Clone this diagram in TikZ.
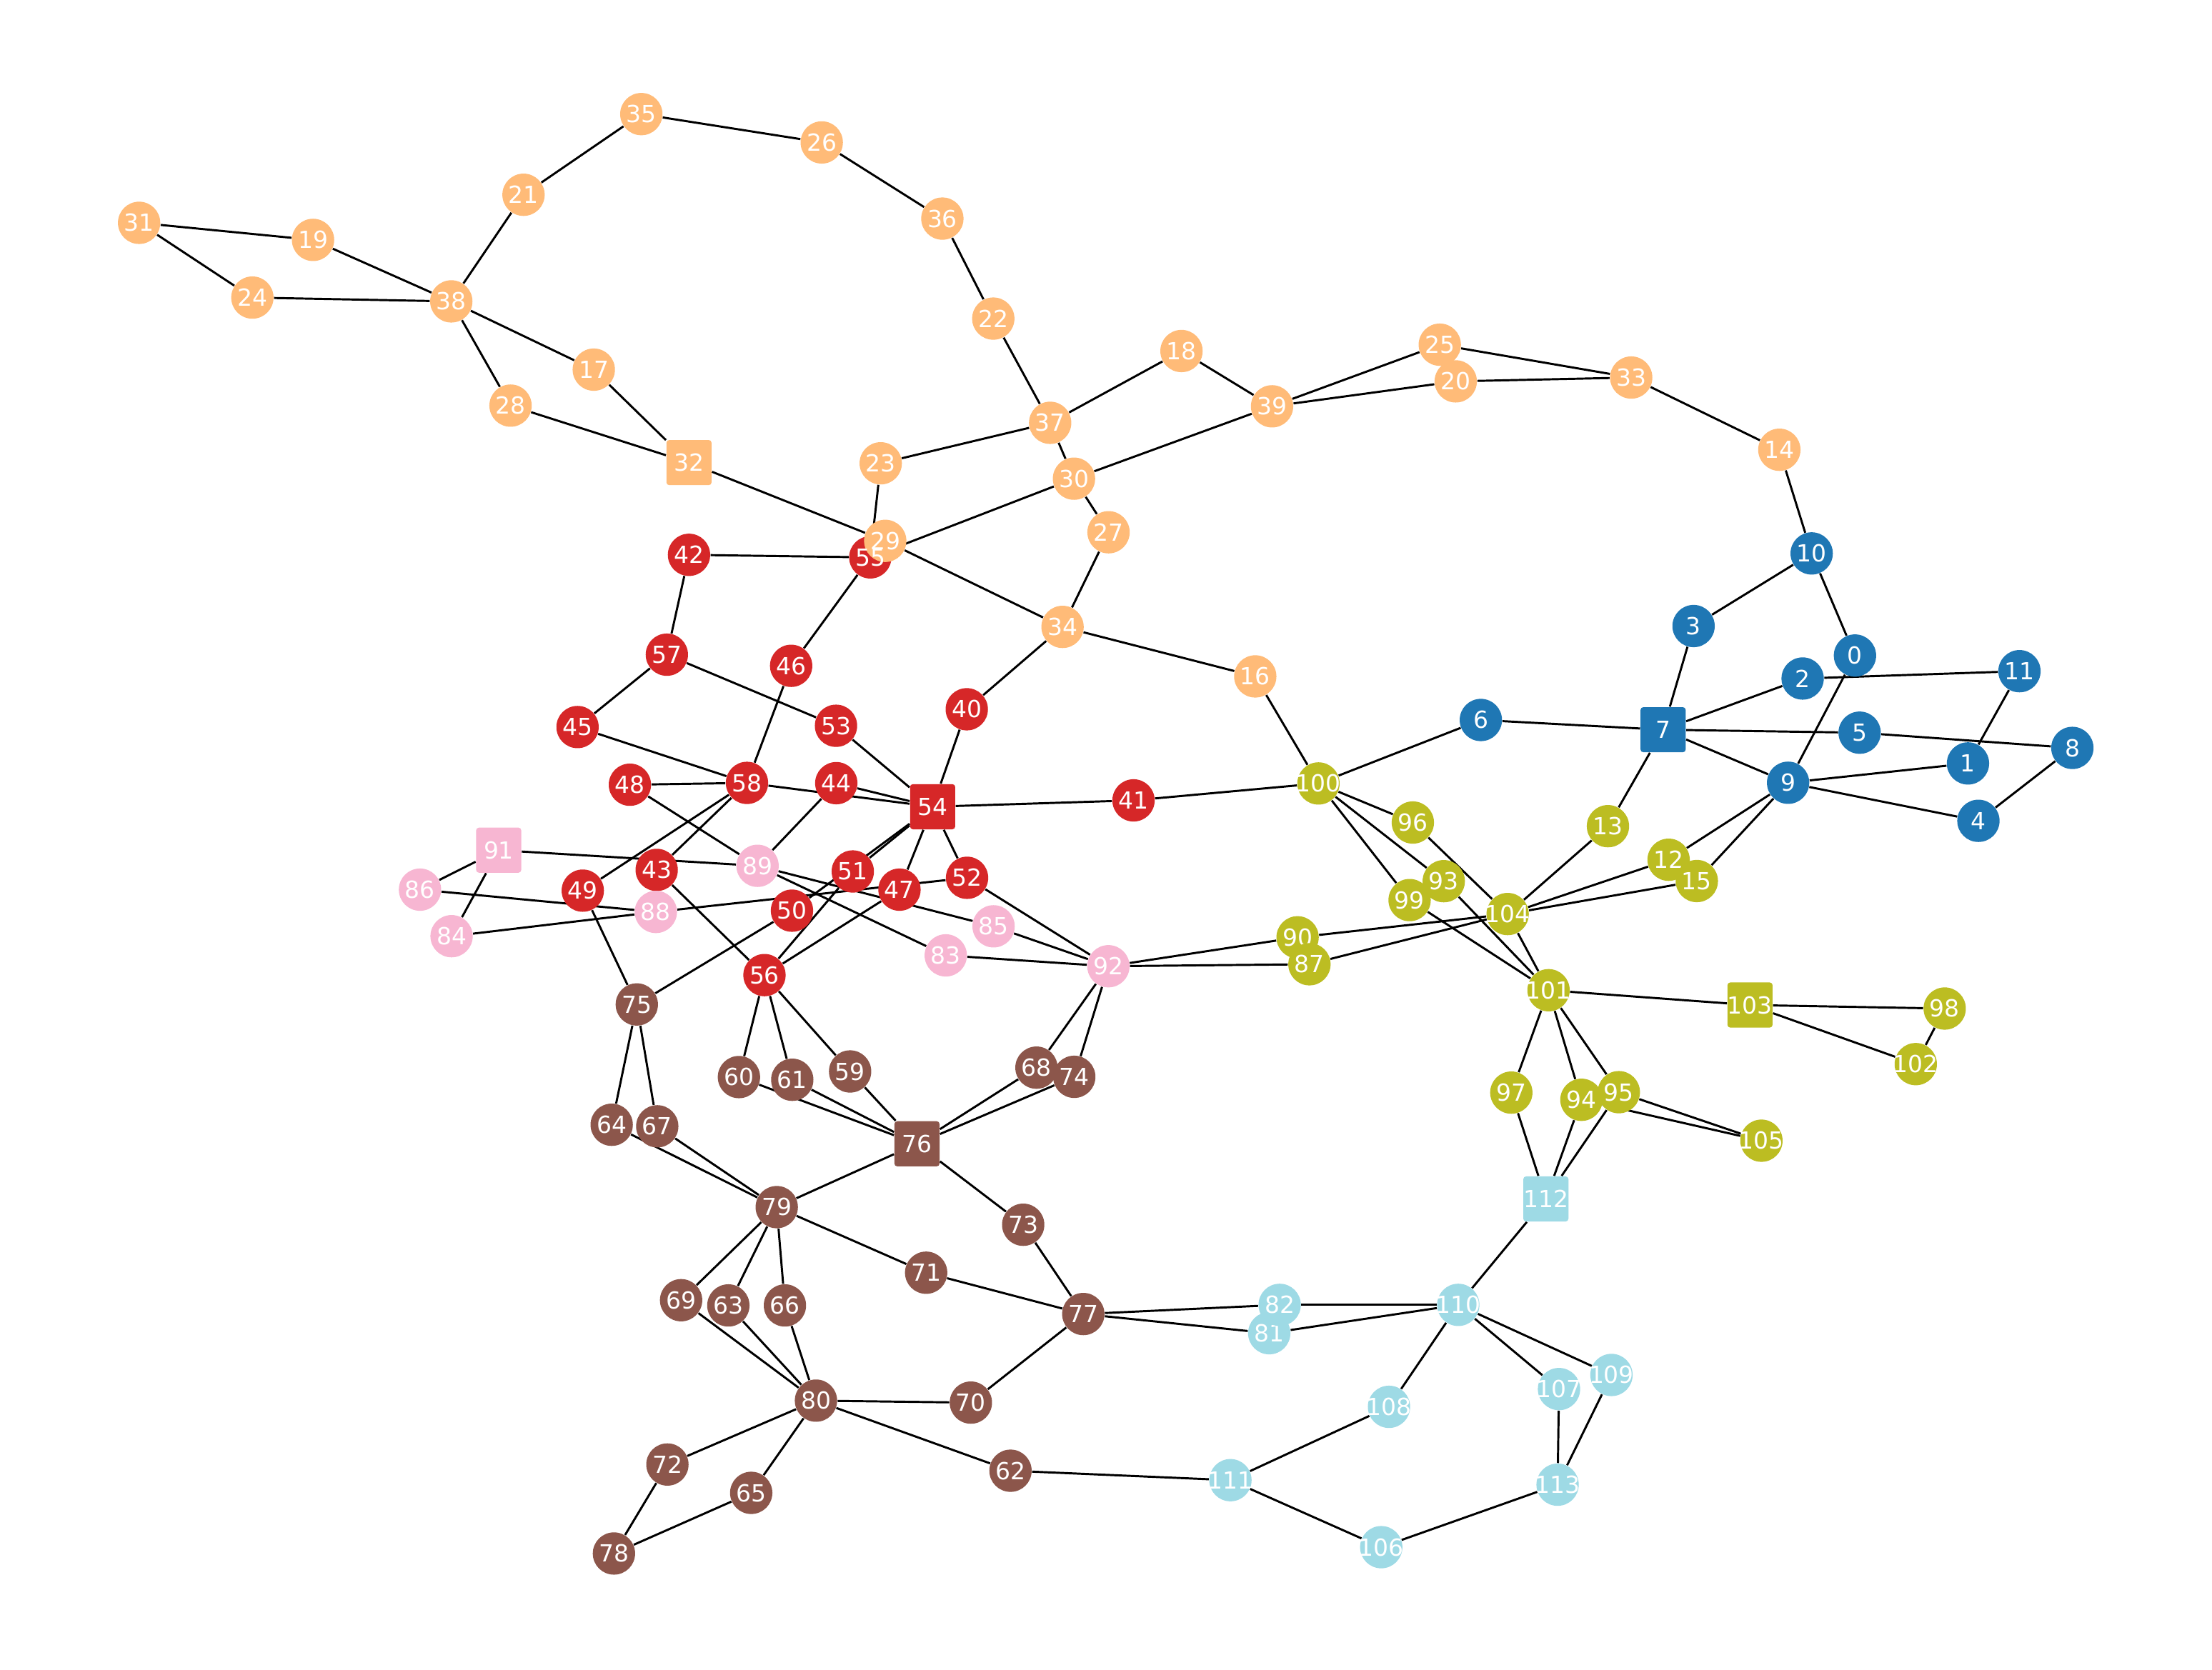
\documentclass[tikz,border=0pt]{standalone}
\usepackage{fontspec}
\setmainfont{DejaVu Sans}
\usetikzlibrary{shapes}
\definecolor{node_blue}{RGB}{31,119,180}
\definecolor{node_orange}{RGB}{255,187,120}
\definecolor{node_red}{RGB}{214,39,40}
\definecolor{node_pink}{RGB}{247,182,210}
\definecolor{node_brown}{RGB}{140,86,75}
\definecolor{node_olive}{RGB}{188,189,34}
\definecolor{node_cyan}{RGB}{158,218,229}
\pgfdeclarelayer{background}
\pgfsetlayers{background,main}

\begin{document}
\begin{tikzpicture}[x=0.2mm,y=-0.2mm]
    \tikzstyle{member}=[circle, minimum size=6mm, inner sep=-4pt, draw=none, text=white, font=\fontsize{9.5}{10}\selectfont]
    \tikzstyle{hub}=[rectangle, rounded corners=0.4mm, minimum size=6.4mm, inner sep=-4pt, draw=none, text=white, font=\fontsize{9.5}{10}\selectfont]
    \tikzstyle{tag}=[inner sep=0pt, text=white, font=\fontsize{9.5}{10}\selectfont]
    \tikzstyle{memberblue}=[style=member, fill=node_blue]
    \tikzstyle{memberorange}=[style=member, fill=node_orange]
    \tikzstyle{memberred}=[style=member, fill=node_red]
    \tikzstyle{memberpink}=[style=member, fill=node_pink]
    \tikzstyle{memberbrown}=[style=member, fill=node_brown]
    \tikzstyle{memberolive}=[style=member, fill=node_olive]
    \tikzstyle{membercyan}=[style=member, fill=node_cyan]
    \tikzstyle{link}=[draw=black, line width=0.85pt]

    \useasboundingbox (0,0) rectangle (1568,1184);

    % blue community
    \node[memberblue]          (n0)   at (1314.9,464.8)  {0};
    \node[memberblue]          (n1)   at (1395.0,541.3)  {1};
    \node[memberblue]          (n2)   at (1277.8,481.1)  {2};
    \node[memberblue]          (n3)   at (1200.5,443.9)  {3};
    \node[memberblue]          (n4)   at (1402.4,582.0)  {4};
    \node[memberblue]          (n5)   at (1318.2,519.5)  {5};
    \node[memberblue]          (n6)   at (1049.7,510.5)  {6};
    \node[hub,fill=node_blue]  (n7)   at (1178.9,517.4)  {7};
    \node[memberblue]          (n8)   at (1469.0,530.3)  {8};
    \node[memberblue]          (n9)   at (1267.5,555.0)  {9};
    \node[memberblue]          (n10)  at (1284.2,392.4)  {10};
    \node[memberblue]          (n11)  at (1431.5,475.9)  {11};

    % red community
    \node[memberred]           (n40)  at (685.3,502.9)   {40};
    \node[memberred]           (n41)  at (803.5,567.5)   {41};
    \node[memberred]           (n42)  at (488.4,393.4)   {42};
    \node[memberred]           (n43)  at (465.5,616.8)   {43};
    \node[memberred]           (n44)  at (592.8,555.3)   {44};
    \node[memberred]           (n45)  at (409.4,515.5)   {45};
    \node[memberred]           (n46)  at (560.8,472.1)   {46};
    \node[memberred]           (n47)  at (637.6,630.8)   {47};
    \node[memberred]           (n48)  at (446.5,556.4)   {48};
    \node[memberred]           (n49)  at (413.1,631.5)   {49};
    \node[memberred]           (n50)  at (561.4,645.7)   {50};
    \node[memberred]           (n51)  at (604.5,617.9)   {51};
    \node[memberred]           (n52)  at (685.5,622.4)   {52};
    \node[memberred]           (n53)  at (592.6,514.6)   {53};
    \node[hub,fill=node_red]   (n54)  at (661.1,572.0)   {54};
    \node[memberred]           (n55)  at (616.9,395.2)   {};
    \node[memberred]           (n56)  at (541.9,691.4)   {56};
    \node[memberred]           (n57)  at (472.7,464.2)   {57};
    \node[memberred]           (n58)  at (529.5,555.1)   {58};

    % orange community
    \node[memberorange]        (n14)  at (1261.3,318.9)  {14};
    \node[memberorange]        (n16)  at (889.8,479.6)   {16};
    \node[memberorange]        (n17)  at (420.9,262.1)   {17};
    \node[memberorange]        (n18)  at (837.5,248.9)   {18};
    \node[memberorange]        (n19)  at (221.9,170.1)   {19};
    \node[memberorange]        (n25)  at (1020.6,244.4)  {25};
    \node[memberorange]        (n20)  at (1031.9,270.4)  {20};
    \node[memberorange]        (n21)  at (371.1,138.1)   {21};
    \node[memberorange]        (n22)  at (704.1,225.9)   {22};
    \node[memberorange]        (n23)  at (624.3,328.5)   {23};
    \node[memberorange]        (n24)  at (178.9,211.0)   {24};
    \node[memberorange]        (n26)  at (582.5,101.0)   {26};
    \node[memberorange]        (n27)  at (785.8,377.4)   {27};
    \node[memberorange]        (n28)  at (361.9,287.6)   {28};
    \node[memberorange]        (n29)  at (627.5,383.5)   {29};
    \node[memberorange]        (n30)  at (761.3,339.4)   {30};
    \node[memberorange]        (n31)  at (98.6,158.0)    {31};
    \node[hub,fill=node_orange] (n32) at (488.4,328.0)   {32};
    \node[memberorange]        (n33)  at (1156.3,267.7)  {33};
    \node[memberorange]        (n34)  at (753.2,444.5)   {34};
    \node[memberorange]        (n35)  at (454.6,80.9)    {35};
    \node[memberorange]        (n36)  at (668.0,155.0)   {36};
    \node[memberorange]        (n37)  at (744.4,299.8)   {37};
    \node[memberorange]        (n38)  at (319.9,213.7)   {38};
    \node[memberorange]        (n39)  at (901.7,288.1)   {39};
    % label of 55 sits above the circle of 29
    \node[tag]                 (t55)  at (n55)           {55};

    % pink community
    \node[memberpink]          (n83)  at (670.4,677.4)   {83};
    \node[memberpink]          (n84)  at (320.1,663.8)   {84};
    \node[memberpink]          (n85)  at (704.3,656.8)   {85};
    \node[memberpink]          (n86)  at (297.7,630.8)   {86};
    \node[memberpink]          (n88)  at (464.9,646.6)   {88};
    \node[memberpink]          (n89)  at (537.0,613.9)   {89};
    \node[hub,fill=node_pink]  (n91)  at (353.5,602.8)   {91};
    \node[memberpink]          (n92)  at (785.7,685.1)   {92};

    % brown community
    \node[memberbrown]         (n59)  at (602.6,759.7)   {59};
    \node[memberbrown]         (n60)  at (523.8,763.7)   {60};
    \node[memberbrown]         (n61)  at (561.6,765.6)   {61};
    \node[memberbrown]         (n62)  at (716.3,1042.8)  {62};
    \node[memberbrown]         (n63)  at (516.3,925.6)   {63};
    \node[memberbrown]         (n64)  at (433.6,797.5)   {64};
    \node[memberbrown]         (n65)  at (532.5,1058.5)  {65};
    \node[memberbrown]         (n66)  at (556.4,925.6)   {66};
    \node[memberbrown]         (n67)  at (465.9,798.6)   {67};
    \node[memberbrown]         (n68)  at (734.7,757.0)   {68};
    \node[memberbrown]         (n69)  at (482.8,921.9)   {69};
    \node[memberbrown]         (n70)  at (688.2,994.5)   {70};
    \node[memberbrown]         (n71)  at (656.5,902.4)   {71};
    \node[memberbrown]         (n72)  at (473.1,1038.4)  {72};
    \node[memberbrown]         (n73)  at (725.3,868.4)   {73};
    \node[memberbrown]         (n74)  at (761.5,763.5)   {74};
    \node[memberbrown]         (n75)  at (451.4,712.2)   {75};
    \node[hub,fill=node_brown] (n76)  at (650.0,811.0)   {76};
    \node[memberbrown]         (n77)  at (767.9,931.7)   {77};
    \node[memberbrown]         (n78)  at (435.2,1101.5)  {78};
    \node[memberbrown]         (n79)  at (550.6,855.9)   {79};
    \node[memberbrown]         (n80)  at (578.4,993.1)   {80};

    % olive community
    \node[memberolive]         (n12)  at (1182.8,609.6)  {12};
    \node[memberolive]         (n13)  at (1139.8,585.8)  {13};
    \node[memberolive]         (n15)  at (1202.8,624.7)  {15};
    \node[memberolive]         (n90)  at (919.8,664.6)   {90};
    \node[memberolive]         (n87)  at (928.2,683.7)   {87};
    \node[memberolive]         (n99)  at (999.2,638.2)   {99};
    \node[memberolive]         (n93)  at (1023.4,624.8)  {93};
    \node[memberolive]         (n94)  at (1121.0,779.8)  {94};
    \node[memberolive]         (n95)  at (1147.5,774.4)  {95};
    \node[memberolive]         (n96)  at (1001.5,583.2)  {96};
    \node[memberolive]         (n97)  at (1071.3,774.7)  {97};
    \node[memberolive]         (n98)  at (1378.5,715.1)  {98};
    \node[memberolive]         (n100) at (934.6,555.5)   {100};
    \node[memberolive]         (n101) at (1097.7,702.1)  {101};
    \node[memberolive]         (n102) at (1358.0,754.5)  {102};
    \node[hub,fill=node_olive] (n103) at (1240.5,712.6)  {103};
    \node[memberolive]         (n104) at (1068.7,648.1)  {104};
    \node[memberolive]         (n105) at (1248.6,808.8)  {105};

    % cyan community
    \node[membercyan]          (n81)  at (899.7,945.3)   {81};
    \node[membercyan]          (n82)  at (907.1,925.2)   {82};
    \node[membercyan]          (n106) at (979.1,1097.0)  {106};
    \node[membercyan]          (n107) at (1105.1,984.9)  {107};
    \node[membercyan]          (n108) at (984.6,997.5)   {108};
    \node[membercyan]          (n109) at (1142.3,974.9)  {109};
    \node[membercyan]          (n110) at (1033.7,925.2)  {110};
    \node[membercyan]          (n111) at (872.2,1049.5)  {111};
    \node[hub,fill=node_cyan]  (n112) at (1095.8,850.1)  {112};
    \node[membercyan]          (n113) at (1104.1,1052.7) {113};

    \begin{pgfonlayer}{background}
    \path[link]
     (n10) edge (n14)  (n10) edge (n3)   (n10) edge (n0)   (n3) edge (n7)
     (n0) edge (n9)    (n2) edge (n7)    (n2) edge (n11)   (n6) edge (n7)
     (n7) edge (n5)    (n5) edge (n8)    (n7) edge (n9)    (n11) edge (n1)
     (n9) edge (n1)    (n9) edge (n4)    (n4) edge (n8)    (n7) edge (n13)
     (n9) edge (n12)   (n9) edge (n15)   (n6) edge (n100);
    \path[link]
     (n31) edge (n19)  (n31) edge (n24)  (n19) edge (n38)  (n24) edge (n38)
     (n38) edge (n21)  (n21) edge (n35)  (n35) edge (n26)  (n26) edge (n36)
     (n36) edge (n22)  (n22) edge (n37)  (n38) edge (n17)  (n38) edge (n28)
     (n17) edge (n32)  (n28) edge (n32)  (n32) edge (n29)  (n29) edge (n34)
     (n37) edge (n18)  (n37) edge (n23)  (n37) edge (n30)  (n18) edge (n39)
     (n39) edge (n25)  (n39) edge (n20)  (n39) edge (n30)  (n25) edge (n33)
     (n20) edge (n33)  (n33) edge (n14)  (n30) edge (n55)  (n30) edge (n27)
     (n27) edge (n34)  (n23) edge (n55)  (n34) edge (n40)  (n34) edge (n16)
     (n16) edge (n100);
    \path[link]
     (n42) edge (n55)  (n42) edge (n57)  (n57) edge (n45)  (n57) edge (n53)
     (n55) edge (n46)  (n46) edge (n58)  (n45) edge (n58)  (n48) edge (n58)
     (n58) edge (n54)  (n44) edge (n54)  (n53) edge (n54)  (n40) edge (n54)
     (n54) edge (n41)  (n41) edge (n100) (n58) edge (n49)  (n58) edge (n43)
     (n43) edge (n56)  (n49) edge (n75)  (n54) edge (n51)  (n54) edge (n50)
     (n54) edge (n47)  (n54) edge (n52)  (n51) edge (n56)  (n47) edge (n56)
     (n50) edge (n75)  (n52) edge (n92);
    \path[link]
     (n91) edge (n86)  (n91) edge (n84)  (n91) edge (n89)  (n86) edge (n88)
     (n84) edge (n88)  (n88) edge (n52)  (n44) edge (n89)  (n48) edge (n89)
     (n89) edge (n83)  (n89) edge (n85)  (n83) edge (n92)  (n85) edge (n92);
    \path[link]
     (n56) edge (n60)  (n56) edge (n61)  (n56) edge (n59)  (n60) edge (n76)
     (n61) edge (n76)  (n59) edge (n76)  (n68) edge (n76)  (n74) edge (n76)
     (n92) edge (n68)  (n92) edge (n74)  (n76) edge (n79)  (n76) edge (n73)
     (n75) edge (n64)  (n75) edge (n67)  (n64) edge (n79)  (n67) edge (n79)
     (n79) edge (n69)  (n79) edge (n63)  (n79) edge (n66)  (n79) edge (n71)
     (n69) edge (n80)  (n63) edge (n80)  (n66) edge (n80)  (n80) edge (n70)
     (n70) edge (n77)  (n71) edge (n77)  (n73) edge (n77)  (n80) edge (n72)
     (n80) edge (n65)  (n72) edge (n78)  (n65) edge (n78)  (n80) edge (n62)
     (n62) edge (n111) (n77) edge (n82)  (n77) edge (n81);
    \path[link]
     (n100) edge (n96)  (n100) edge (n93)  (n100) edge (n99)  (n96) edge (n104)
     (n93) edge (n101)  (n99) edge (n101)  (n13) edge (n104)  (n12) edge (n104)
     (n15) edge (n104)  (n90) edge (n104)  (n87) edge (n104)  (n104) edge (n101)
     (n90) edge (n92)   (n87) edge (n92)   (n101) edge (n103) (n103) edge (n98)
     (n103) edge (n102) (n98) edge (n102)  (n101) edge (n97)  (n101) edge (n94)
     (n101) edge (n95)  (n97) edge (n112)  (n94) edge (n112)  (n95) edge (n112)
     (n95) edge (n105)  (n94) edge (n105);
    \path[link]
     (n112) edge (n110) (n82) edge (n110)  (n81) edge (n110)  (n110) edge (n108)
     (n110) edge (n107) (n110) edge (n109) (n107) edge (n113) (n109) edge (n113)
     (n113) edge (n106) (n106) edge (n111) (n111) edge (n108);
    \end{pgfonlayer}
\end{tikzpicture}
\end{document}
